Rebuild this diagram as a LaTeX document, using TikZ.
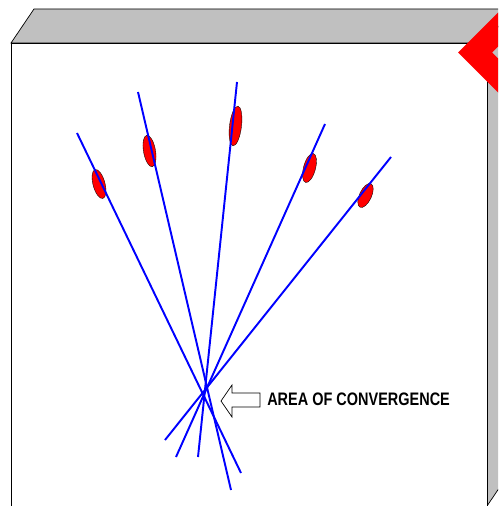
\documentclass[tikz,border=0pt]{standalone}
\usepackage{fontspec}
\setmainfont{Liberation Sans}
\usetikzlibrary{shapes.geometric}
\usetikzlibrary{positioning}

\definecolor{boxgray}{RGB}{192,192,192}
\tikzset{
  ray/.style={draw=blue,line width=1.1pt},
  spot/.style={ellipse,draw=black,very thin,fill=red,inner sep=0pt}
}

\begin{document}
\begin{tikzpicture}[x=0.02cm,y=-0.02cm]
\useasboundingbox (0,0) rectangle (498,506);
\clip (0,0) rectangle (498,506);
\draw[fill=boxgray,draw=black,thin] (487,43) -- (510,9) -- (510,472) -- (487,506) -- cycle;
\draw[fill=boxgray,draw=black,thin] (11,43) -- (34,9) -- (510,9) -- (487,43) -- cycle;
\draw[fill=white,draw=black,thin] (11,43) rectangle (487,507);
\fill[red] (458,52.5) -- (520,-9.5) -- (520,24.5) -- (492,52.5) -- (520,80.5) -- (520,114.5) -- cycle;

\coordinate (t1) at (77,133);
\coordinate (b1) at (241,473);
\coordinate (t2) at (138,92);
\coordinate (b2) at (231,490);
\coordinate (t3) at (237,82);
\coordinate (b3) at (198,457);
\coordinate (t4) at (325,124);
\coordinate (b4) at (176,457);
\coordinate (t5) at (391,157);
\coordinate (b5) at (165,440);

\node[spot,minimum width=0.6cm,minimum height=0.24cm,rotate=105] (e1) at (99,184) {};
\node[spot,minimum width=0.64cm,minimum height=0.24cm,rotate=100] (e2) at (149.5,151) {};
\node[spot,minimum width=0.8cm,minimum height=0.24cm,rotate=83] (e3) at (235.5,126) {};
\node[spot,minimum width=0.6cm,minimum height=0.24cm,rotate=75] (e4) at (309.5,168) {};
\node[spot,minimum width=0.52cm,minimum height=0.24cm,rotate=65] (e5) at (365.5,195.5) {};

\draw[ray] (t1) -- (b1);
\draw[ray] (t2) -- (b2);
\draw[ray] (t3) -- (b3);
\draw[ray] (t4) -- (b4);
\draw[ray] (t5) -- (b5);

% pointer to the crossing
\draw[fill=white,draw=black,thin] (221,401) -- (232,385) -- (232,393) -- (260,393) -- (260,407) -- (232,407) -- (232,417) -- cycle;
\node[font=\bfseries\fontsize{10.3}{12}\selectfont,xscale=0.8,anchor=west,inner sep=0pt] (conv) at (267,399) {AREA OF CONVERGENCE};

\end{tikzpicture}
\end{document}
